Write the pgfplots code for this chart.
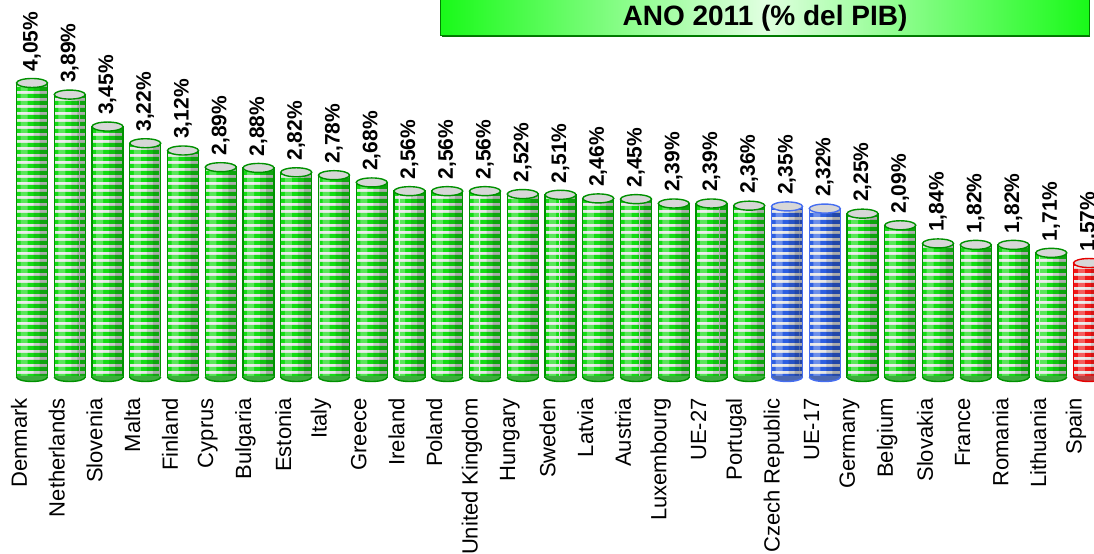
\documentclass[border=0pt]{standalone}
\usepackage{fontspec}
\setmainfont{Liberation Sans}
\usepackage{pgfplots}
\pgfplotsset{compat=1.18}
\usepackage{pgfplotstable}
\usetikzlibrary{patterns.meta}

\definecolor{gstripe}{RGB}{20,220,20}
\definecolor{gborder}{RGB}{0,145,0}
\definecolor{bstripe}{RGB}{45,95,225}
\definecolor{bborder}{RGB}{70,110,240}
\definecolor{rstripe}{RGB}{240,25,25}
\definecolor{rborder}{RGB}{230,0,0}
\definecolor{capgray}{RGB}{215,215,215}
\definecolor{bodygray}{RGB}{230,230,230}
\definecolor{titlegreen}{RGB}{25,250,25}

\tikzdeclarepattern{
  name=hstripes,
  type=uncolored,
  bounding box={(0pt,0pt) and (40pt,3.65pt)},
  tile size={(40pt,3.65pt)},
  code={\fill (0pt,0pt) rectangle (40pt,2.2pt);}
}

% bottom of a cylinder: lower half ellipse, hides the flat bar bottom
\pgfdeclareplotmark{botcap}{%
  \pgfpathmoveto{\pgfqpoint{-7.75pt}{0.6pt}}%
  \pgfpathlineto{\pgfqpoint{-7.75pt}{0pt}}%
  \pgfpatharc{180}{360}{7.75pt and 2.25pt}%
  \pgfpathlineto{\pgfqpoint{7.75pt}{0.6pt}}%
  \pgfpathclose
  \pgfusepath{fill}%
  \pgfpathmoveto{\pgfqpoint{-7.75pt}{0pt}}%
  \pgfpatharc{180}{360}{7.75pt and 2.25pt}%
  \pgfusepath{stroke}%
}
% top of a cylinder
\pgfdeclareplotmark{topcap}{%
  \pgfpathellipse{\pgfpointorigin}{\pgfqpoint{7.75pt}{0pt}}{\pgfqpoint{0pt}{2.25pt}}%
  \pgfusepath{fill,stroke}%
}

% x = position of the country in the ranking, y = % of GDP
\pgfplotstableread{
x y b
0 4.05 0
1 3.89 0
2 3.45 0
3 3.22 0
4 3.12 0
5 2.89 0
6 2.88 0
7 2.82 0
8 2.78 0
9 2.68 0
10 2.56 0
11 2.56 0
12 2.56 0
13 2.52 0
14 2.51 0
15 2.46 0
16 2.45 0
17 2.39 0
18 2.39 0
19 2.36 0
22 2.25 0
23 2.09 0
24 1.84 0
25 1.82 0
26 1.82 0
27 1.71 0
}\greendata
\pgfplotstableread{
x y b
20 2.35 0
21 2.32 0
}\bluedata
\pgfplotstableread{
x y b
28 1.57 0
}\reddata

\pgfplotsset{
  cylbar/.style={ybar, bar width=15.5pt, bar shift=0pt},
}

% one group of striped cylinders: #1 table, #2 stripe colour, #3 border colour
\newcommand\cylseries[3]{%
  \addplot[cylbar, draw=none, fill=bodygray] table[x=x,y=y]{#1};
  \addplot[cylbar, draw=none, pattern=hstripes, pattern color=#2] table[x=x,y=y]{#1};
  % light left side, darker right side of the cylinder
  \addplot[ybar, bar width=3.5pt, bar shift=-4pt, draw=none, fill=white, fill opacity=0.3] table[x=x,y=y]{#1};
  \addplot[ybar, bar width=7pt, bar shift=4.25pt, draw=none, fill=black, fill opacity=0.12] table[x=x,y=y]{#1};
  \addplot[ybar, bar width=4pt, bar shift=5.75pt, draw=none, fill=black, fill opacity=0.15] table[x=x,y=y]{#1};
  \addplot[cylbar, draw=#3, line width=0.7pt, fill=none] table[x=x,y=y]{#1};
  \addplot[only marks, mark=botcap, draw=#3, line width=0.7pt,
    mark options={fill=#2!70!black!80!white}] table[x=x,y=b]{#1};
  \addplot[only marks, mark=topcap, draw=#3, line width=0.7pt,
    mark options={fill=capgray},
    nodes near coords={\pgfmathprintnumber[fixed,fixed zerofill,precision=2,use comma,assume math mode=true]{\pgfplotspointmeta}\%},
    nodes near coords style={rotate=90, anchor=west, inner sep=0pt, inner xsep=5.5pt,
      text=black, font=\bfseries\fontsize{10.5}{12}\selectfont}] table[x=x,y=y]{#1};
}

\begin{document}
\begin{tikzpicture}
\useasboundingbox (0pt,-88pt) rectangle (547pt,188.5pt);
\clip (0pt,-88pt) rectangle (547pt,188.5pt);
\begin{axis}[
    at={(0pt,0pt)}, anchor=south west,
    scale only axis, width=547pt, height=188.5pt,
    xmin=-0.8477, xmax=28.132,
    ymin=0, ymax=5.193,
    axis line style={draw=none},
    ytick=\empty,
    xtick={-0.344,0.656,1.656,2.656,3.656,4.656,5.656,6.656,7.656,8.656,9.656,10.656,11.656,12.656,13.656,14.656,15.656,16.656,17.656,18.656,19.656,20.656,21.656,22.656,23.656,24.656,25.656,26.656,27.656},
    xticklabels={Denmark,Netherlands,Slovenia,Malta,Finland,Cyprus,Bulgaria,Estonia,Italy,Greece,Ireland,Poland,United Kingdom,Hungary,Sweden,Latvia,Austria,Luxembourg,UE-27,Portugal,Czech Republic,UE-17,Germany,Belgium,Slovakia,France,Romania,Lithuania,Spain},
    major tick length=0pt,
    xticklabel style={rotate=90, anchor=east, inner sep=0pt, font=\fontsize{11}{12}\selectfont},
    xticklabel shift=10.5pt,
    clip=false,
]
\cylseries{\greendata}{gstripe}{gborder}
\cylseries{\bluedata}{bstripe}{bborder}
\cylseries{\reddata}{rstripe}{rborder}
\end{axis}

% title box
\fill[green!45!black] (221.1pt,170pt) rectangle (545.2pt,195pt);
\path[draw=green!50!black, line width=0.5pt, left color=titlegreen, right color=titlegreen, middle color=green!12!white]
  (220.35pt,170.65pt) rectangle (544.5pt,195pt);
\node[anchor=base, inner sep=0pt, font=\bfseries\fontsize{14}{16}\selectfont] at (382.5pt,176pt) {ANO 2011 (\% del PIB)};
\end{tikzpicture}
\end{document}
